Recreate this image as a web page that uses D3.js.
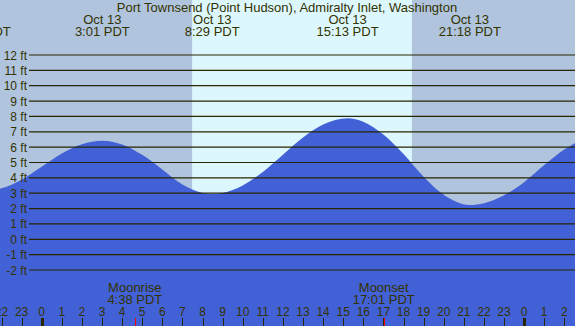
<!DOCTYPE html>
<html><head><meta charset="utf-8">
<script src="https://cdn.jsdelivr.net/npm/d3@7"></script>
<style>
html,body{margin:0;padding:0;background:#b0c4de;}
svg{display:block;}
text{font-family:"Liberation Sans",Arial,sans-serif;font-size:13px;fill:#333300;}
text.small{font-size:12px;}
</style></head><body>
<svg id="chart" width="575" height="326"></svg>
<script>
// ---- data ----
const title = "Port Townsend (Point Hudson), Admiralty Inlet, Washington";
// tide curve samples: hours relative to midnight Oct 13 (PDT), level in ft
const tideHours  = [-2.93, -2, -1, 0, 1, 2, 3.017, 4, 5, 6, 7, 8, 8.483, 9, 10, 11, 12, 13, 14, 15.217, 16, 17, 18, 19, 20, 21.3, 22, 23, 24, 25, 26, 27];
const tideLevels = [3.15, 3.32, 3.88, 4.72, 5.58, 6.19, 6.42, 6.18, 5.5, 4.55, 3.56, 3.02, 2.95, 3.02, 3.5, 4.38, 5.5, 6.62, 7.47, 7.88, 7.66, 6.82, 5.55, 4.08, 2.9, 2.23, 2.35, 2.87, 3.72, 4.83, 5.84, 6.62];
// high / low tide labels
const extremeDates   = ["Oct 12", "Oct 13", "Oct 13", "Oct 13", "Oct 13"];
const extremeDayOffs = [-1, 0, 0, 0, 0];
const extremeTimes   = ["20:55", "3:01", "8:29", "15:13", "21:18"];
// sun / moon
const sunrise = "7:29", sunset = "18:25";
const moonEvents = ["Moonrise", "Moonset"];
const moonTimes  = ["4:38", "17:01"];
// axis ticks
const levelTicks = [-2, -1, 0, 1, 2, 3, 4, 5, 6, 7, 8, 9, 10, 11, 12];
const hourTicks  = d3.range(-2, 27);

// ---- helpers ----
const toH = (s, off = 0) => { const [h, m] = s.split(":").map(Number); return off * 24 + h + m / 60; };

const W = 575, H = 326;
const svg = d3.select("#chart");
const x = d3.scaleLinear().domain([-2.075, 26.532]).range([0, W]);
const y = d3.scaleLinear().domain([-2, 12]).range([270, 55]);

// background: night + day band
svg.append("rect").attr("x", 0).attr("y", 0).attr("width", W).attr("height", H).attr("fill", "#b0c4de");
svg.append("rect")
  .attr("x", x(toH(sunrise))).attr("y", 0)
  .attr("width", x(toH(sunset)) - x(toH(sunrise))).attr("height", H)
  .attr("fill", "#ddf7ff");

// water
const pts = tideHours.map((h, i) => [h, tideLevels[i]]);
const area = d3.area().x(d => x(d[0])).y0(H).y1(d => y(d[1])).curve(d3.curveMonotoneX);
svg.append("path").datum(pts).attr("d", area).attr("fill", "#4361d6");

// level grid lines + labels
const gy = svg.append("g");
levelTicks.forEach(v => {
  gy.append("line").attr("x1", 29).attr("x2", W).attr("y1", y(v)).attr("y2", y(v))
    .attr("stroke", "#262600").attr("stroke-width", 1.2);
  gy.append("text").attr("class", "small").attr("x", 27).attr("y", y(v) + 4.5)
    .attr("text-anchor", "end").text(v + " ft");
});

// title
svg.append("text").attr("x", 287).attr("y", 12).attr("text-anchor", "middle").text(title);

// extreme labels
extremeTimes.forEach((t, i) => {
  const cx = x(toH(t, extremeDayOffs[i]));
  svg.append("text").attr("x", cx).attr("y", 24).attr("text-anchor", "middle").text(extremeDates[i]);
  svg.append("text").attr("x", cx).attr("y", 36.3).attr("text-anchor", "middle").text(t + " PDT");
});

// moon labels
moonEvents.forEach((ev, i) => {
  const cx = x(toH(moonTimes[i]));
  svg.append("text").attr("x", cx).attr("y", 292).attr("text-anchor", "middle").text(ev);
  svg.append("text").attr("x", cx).attr("y", 304).attr("text-anchor", "middle").text(moonTimes[i] + " PDT");
});

// hour axis
const axisG = svg.append("g");
hourTicks.forEach(h => {
  const hx = Math.round(x(h)) + 0.5;
  const mid = ((h % 24) + 24) % 24 === 0;
  axisG.append("line").attr("x1", hx).attr("x2", hx).attr("y1", 318).attr("y2", H)
    .attr("stroke", "#262600").attr("stroke-width", mid ? 3 : 1);
  axisG.append("text").attr("class", "small").attr("x", x(h)).attr("y", 316)
    .attr("text-anchor", "middle").text(((h % 24) + 24) % 24);
});
moonTimes.forEach(t => {
  const mx = Math.round(x(toH(t))) + 0.5;
  axisG.append("line").attr("x1", mx).attr("x2", mx).attr("y1", 318).attr("y2", H)
    .attr("stroke", "#ff0000").attr("stroke-width", 1);
});
</script>
</body></html>
